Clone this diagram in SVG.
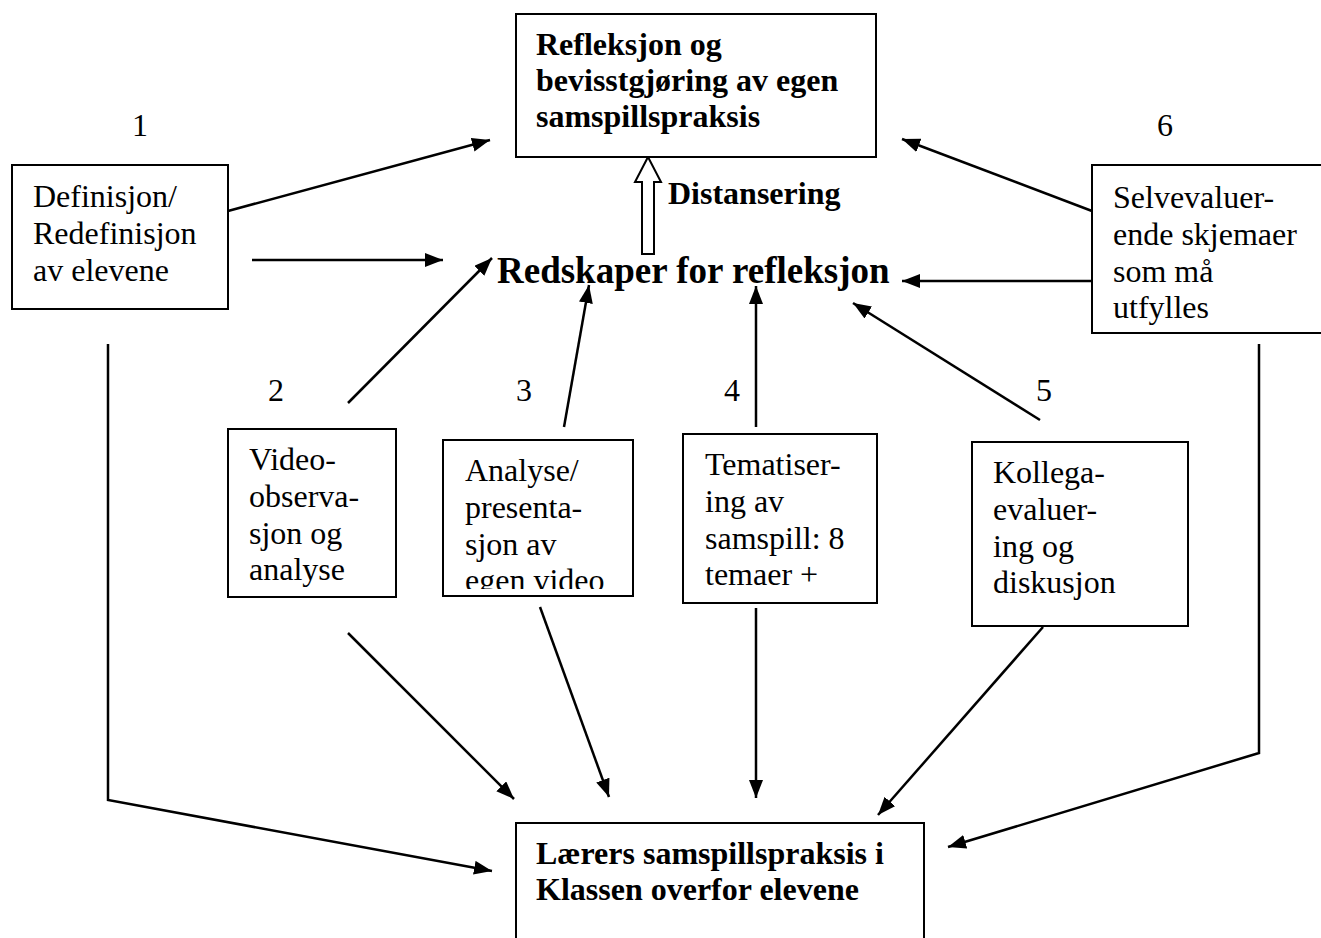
<svg xmlns="http://www.w3.org/2000/svg" width="1321" height="938" viewBox="0 0 1321 938">
  <style>
    .box { fill: #ffffff; stroke: #000000; stroke-width: 2; }
    .t { font-family: "Liberation Serif", "Times New Roman", serif; font-size: 32px; fill: #000000; }
    .b { font-weight: bold; }
    .big { font-family: "Liberation Serif", "Times New Roman", serif; font-size: 37px; font-weight: bold; fill: #000000; }
    .ln { fill: none; stroke: #000000; stroke-width: 2.5; }
  </style>
  <defs>
    <marker id="head" markerUnits="userSpaceOnUse" markerWidth="20" markerHeight="16" refX="18" refY="7" orient="auto">
      <path d="M0,0 L18,7 L0,14 Z" fill="#000000"/>
    </marker>
    <clipPath id="clipAnalyse">
      <rect x="443" y="440" width="190" height="149"/>
    </clipPath>
  </defs>
  <rect width="1321" height="938" fill="#ffffff"/>

  <!-- connectors -->
  <g id="connectors">
    <line class="ln" x1="228" y1="211" x2="490" y2="140" marker-end="url(#head)"/>
    <line class="ln" x1="252" y1="260" x2="443" y2="260" marker-end="url(#head)"/>
    <line class="ln" x1="348" y1="403" x2="492" y2="258" marker-end="url(#head)"/>
    <line class="ln" x1="564" y1="427" x2="589" y2="285" marker-end="url(#head)"/>
    <line class="ln" x1="756" y1="427" x2="756" y2="286" marker-end="url(#head)"/>
    <line class="ln" x1="1040" y1="420" x2="853" y2="303" marker-end="url(#head)"/>
    <line class="ln" x1="1092" y1="281" x2="902" y2="281" marker-end="url(#head)"/>
    <line class="ln" x1="1092" y1="211" x2="902" y2="139" marker-end="url(#head)"/>
    <polyline class="ln" points="108,344 108,800 492,871" marker-end="url(#head)"/>
    <line class="ln" x1="348" y1="633" x2="514" y2="799" marker-end="url(#head)"/>
    <line class="ln" x1="540" y1="607" x2="609" y2="797" marker-end="url(#head)"/>
    <line class="ln" x1="756" y1="608" x2="756" y2="798" marker-end="url(#head)"/>
    <line class="ln" x1="1043" y1="627" x2="878" y2="815" marker-end="url(#head)"/>
    <polyline class="ln" points="1259,344 1259,753 948,847" marker-end="url(#head)"/>
    <!-- hollow block arrow: distancing -->
    <polygon points="648,157 661,182 654,182 654,254 642,254 642,182 635,182" fill="#ffffff" stroke="#000000" stroke-width="2"/>
  </g>

  <g id="node-refleksjon">
    <rect class="box" x="516" y="14" width="360" height="143"/>
    <text class="t b" x="536" y="55">Refleksjon og</text>
    <text class="t b" x="536" y="91">bevisstgjøring av egen</text>
    <text class="t b" x="536" y="127">samspillspraksis</text>
  </g>

  <g id="label-distansering">
    <text class="t b" x="668" y="204">Distansering</text>
  </g>

  <g id="node-redskaper">
    <text class="big" x="497" y="283">Redskaper for refleksjon</text>
  </g>

  <g id="numbers">
    <text class="t" x="132" y="136">1</text>
    <text class="t" x="1157" y="136">6</text>
    <text class="t" x="268" y="401">2</text>
    <text class="t" x="516" y="401">3</text>
    <text class="t" x="724" y="401">4</text>
    <text class="t" x="1036" y="401">5</text>
  </g>

  <g id="node-definisjon">
    <rect class="box" x="12" y="165" width="216" height="144"/>
    <text class="t" x="33" y="207">Definisjon/</text>
    <text class="t" x="33" y="244">Redefinisjon</text>
    <text class="t" x="33" y="281">av elevene</text>
  </g>

  <g id="node-selvevaluering">
    <rect class="box" x="1092" y="165" width="232" height="168"/>
    <text class="t" x="1113" y="208">Selvevaluer-</text>
    <text class="t" x="1113" y="245">ende skjemaer</text>
    <text class="t" x="1113" y="282">som må</text>
    <text class="t" x="1113" y="318">utfylles</text>
  </g>

  <g id="node-video">
    <rect class="box" x="228" y="429" width="168" height="168"/>
    <text class="t" x="249" y="470">Video-</text>
    <text class="t" x="249" y="507">observa-</text>
    <text class="t" x="249" y="544">sjon og</text>
    <text class="t" x="249" y="580">analyse</text>
  </g>

  <g id="node-analyse">
    <rect class="box" x="443" y="440" width="190" height="156"/>
    <g clip-path="url(#clipAnalyse)">
      <text class="t" x="465" y="481">Analyse/</text>
      <text class="t" x="465" y="518">presenta-</text>
      <text class="t" x="465" y="555">sjon av</text>
      <text class="t" x="465" y="591">egen video</text>
    </g>
  </g>

  <g id="node-tematisering">
    <rect class="box" x="683" y="434" width="194" height="169"/>
    <text class="t" x="705" y="475">Tematiser-</text>
    <text class="t" x="705" y="512">ing av</text>
    <text class="t" x="705" y="549">samspill: 8</text>
    <text class="t" x="705" y="585">temaer +</text>
  </g>

  <g id="node-kollega">
    <rect class="box" x="972" y="442" width="216" height="184"/>
    <text class="t" x="993" y="483">Kollega-</text>
    <text class="t" x="993" y="520">evaluer-</text>
    <text class="t" x="993" y="557">ing og</text>
    <text class="t" x="993" y="593">diskusjon</text>
  </g>

  <g id="node-praksis">
    <rect class="box" x="516" y="823" width="408" height="130"/>
    <text class="t b" x="536" y="864">Lærers samspillspraksis i</text>
    <text class="t b" x="536" y="900">Klassen overfor elevene</text>
  </g>
</svg>
